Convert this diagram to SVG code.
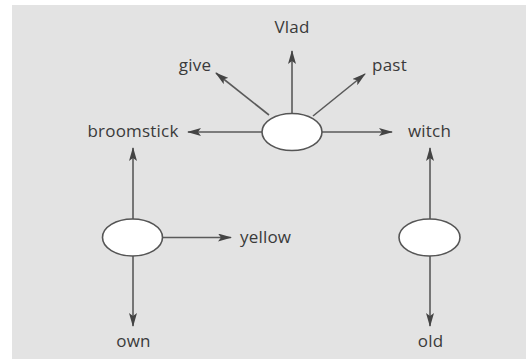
<svg xmlns="http://www.w3.org/2000/svg" width="526" height="362" viewBox="0 0 526 362">
<defs>
<style>
.bg{fill:#e3e3e3}
.node{fill:#ffffff;stroke:#555555;stroke-width:1.6}
.lbl{font-family:"Open Sans","Noto Sans",sans-serif;font-size:17px;font-weight:500;fill:#3a3a3a;letter-spacing:0.2px}
.edge{stroke:#5a5a5a;stroke-width:1.6;fill:none;marker-end:url(#ah)}
</style>
<marker id="ah" viewBox="0 0 14 8" refX="13" refY="4" markerWidth="14" markerHeight="8" markerUnits="userSpaceOnUse" orient="auto">
<path d="M0,0 L14,4 L0,8 L3,4 z" fill="#444444"/>
</marker>
</defs>
<rect class="bg" x="12" y="5" width="514" height="354"/>
<g id="connectors">
<line class="edge" x1="292" y1="113" x2="292" y2="51"/>
<line class="edge" x1="269" y1="115" x2="216" y2="73"/>
<line class="edge" x1="313" y1="116" x2="365" y2="74"/>
<line class="edge" x1="262" y1="132" x2="188" y2="132"/>
<line class="edge" x1="322" y1="132" x2="392" y2="132"/>
<line class="edge" x1="133" y1="219" x2="133" y2="148"/>
<line class="edge" x1="430" y1="219" x2="430" y2="148"/>
<line class="edge" x1="163" y1="237.5" x2="231" y2="237.5"/>
<line class="edge" x1="133" y1="256" x2="133" y2="326"/>
<line class="edge" x1="430" y1="256" x2="430" y2="326"/>
</g>
<g id="center"><ellipse class="node" cx="292" cy="132" rx="30" ry="18.5"/></g>
<g id="left"><ellipse class="node" cx="132.5" cy="237.5" rx="30" ry="18.5"/></g>
<g id="right"><ellipse class="node" cx="429.5" cy="237.5" rx="30.5" ry="18.5"/></g>
<g id="vlad"><text class="lbl" x="292" y="33" text-anchor="middle">Vlad</text></g>
<g id="give"><text class="lbl" x="195" y="71" text-anchor="middle">give</text></g>
<g id="past"><text class="lbl" x="389.5" y="71" text-anchor="middle">past</text></g>
<g id="broomstick"><text class="lbl" x="133" y="137" text-anchor="middle">broomstick</text></g>
<g id="witch"><text class="lbl" x="429.5" y="137" text-anchor="middle">witch</text></g>
<g id="yellow"><text class="lbl" x="240" y="243">yellow</text></g>
<g id="own"><text class="lbl" x="133.5" y="347" text-anchor="middle">own</text></g>
<g id="old"><text class="lbl" x="430.5" y="347" text-anchor="middle">old</text></g>
</svg>
